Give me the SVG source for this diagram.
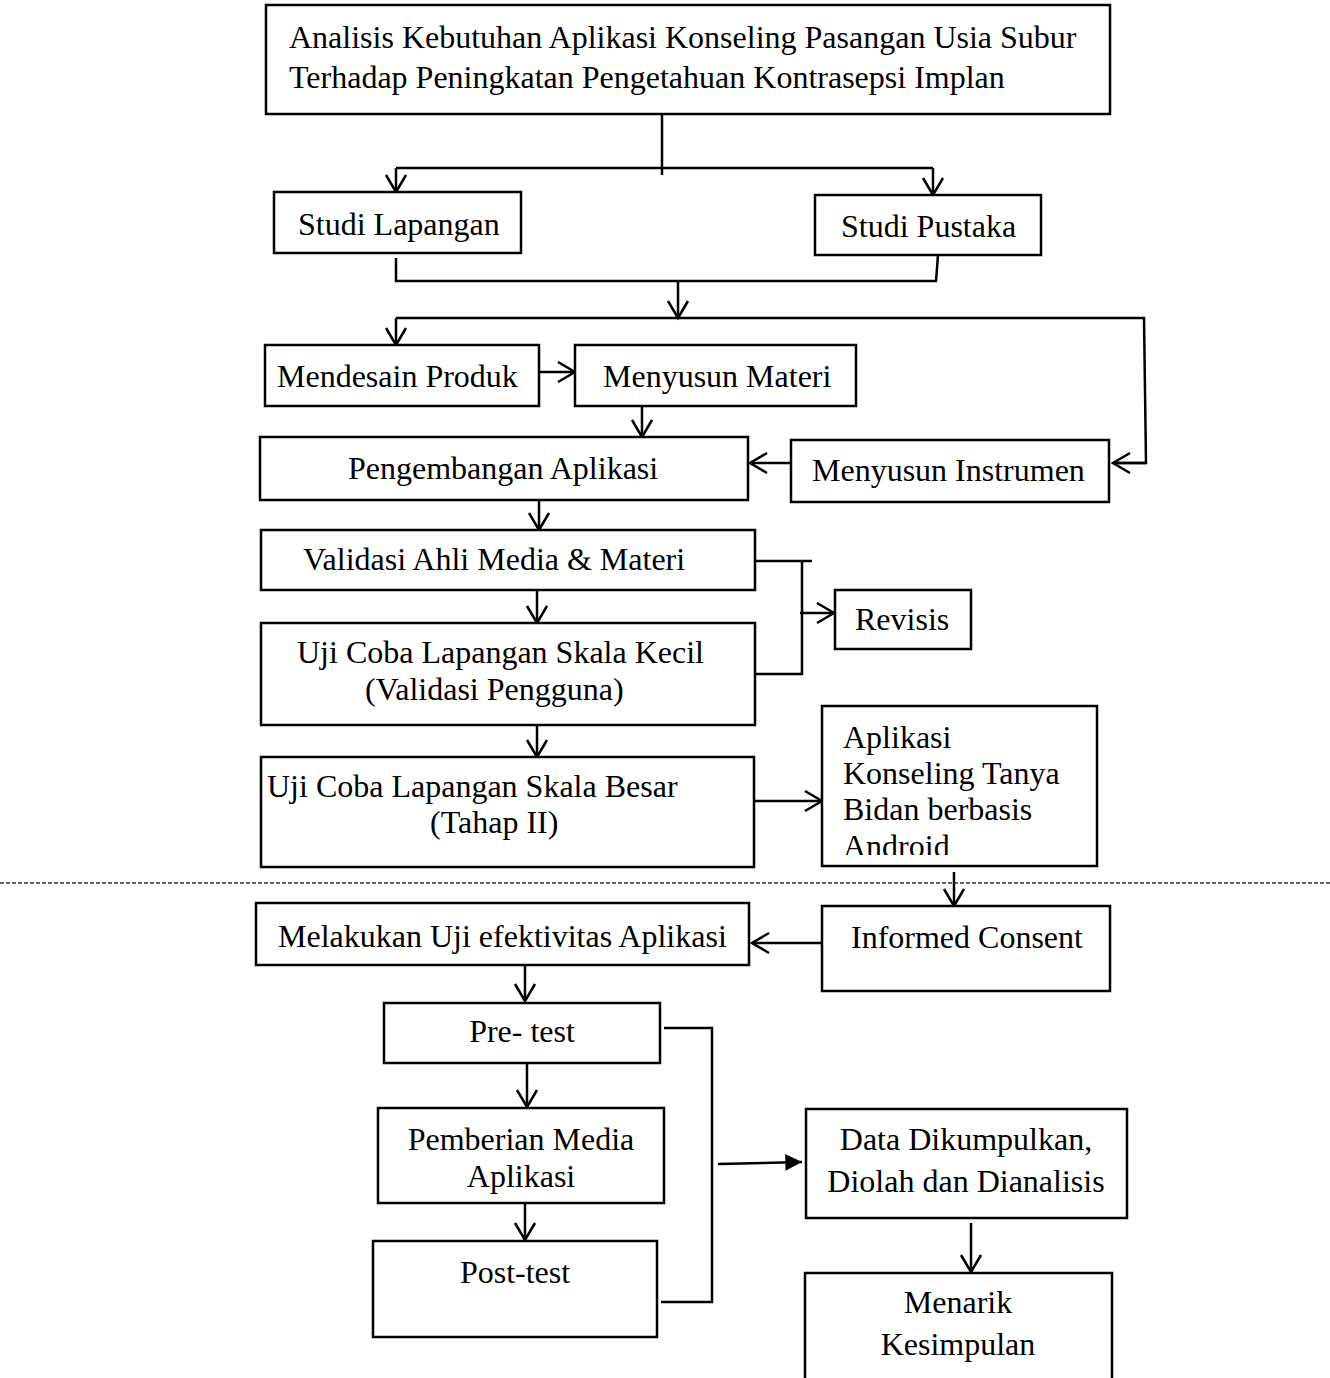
<svg xmlns="http://www.w3.org/2000/svg" width="1330" height="1378" viewBox="0 0 1330 1378">
  <style>
    .box { fill: #fff; stroke: #000; stroke-width: 2.5; }
    .t { font-family: "Liberation Serif", "Times New Roman", serif; font-size: 32px; fill: #000; }
    .c { text-anchor: middle; }
    .ln { fill: none; stroke: #000; stroke-width: 2.5; }
    .arr { fill: none; stroke: #000; stroke-width: 2.5; marker-end: url(#chev); }
    .farr { fill: none; stroke: #000; stroke-width: 2.5; marker-end: url(#tri); }
    .dash { fill: none; stroke: #333; stroke-width: 1.3; stroke-dasharray: 4 2; }
  </style>
  <defs>
    <marker id="chev" markerUnits="userSpaceOnUse" markerWidth="24" markerHeight="26" viewBox="-20 -13 24 26" refX="0" refY="0" orient="auto" overflow="visible">
      <path d="M-17,-10 L0,0 L-17,10" fill="none" stroke="#000" stroke-width="2.5"/>
    </marker>
    <marker id="tri" markerUnits="userSpaceOnUse" markerWidth="20" markerHeight="20" viewBox="-16 -9 18 18" refX="0" refY="0" orient="auto" overflow="visible">
      <path d="M-15,-7.5 L0,0 L-15,7.5 Z" fill="#000" stroke="none"/>
    </marker>
    <clipPath id="clipApp">
      <rect x="823" y="707" width="273" height="148"/>
    </clipPath>
  </defs>

  <rect width="1330" height="1378" fill="#fff"/>

  <g id="connectors">
    <path class="ln" d="M662,114 V175"/>
    <path class="ln" d="M396,168 H933"/>
    <path class="arr" d="M396,168 V192"/>
    <path class="arr" d="M933,168 V195"/>
    <path class="ln" d="M396,258 V281 H936 L938,255"/>
    <path class="arr" d="M678,281 V318"/>
    <path class="ln" d="M396,318 H1144 L1146,463 H1113"/>
    <path class="arr" d="M1146,463 H1113"/>
    <path class="arr" d="M396,318 V345"/>
    <path class="arr" d="M539,372 H575"/>
    <path class="arr" d="M642,406 V437"/>
    <path class="arr" d="M791,463 H750"/>
    <path class="arr" d="M539,500 V530"/>
    <path class="arr" d="M537,590 V623"/>
    <path class="ln" d="M755,561 H812"/>
    <path class="ln" d="M802,561 V674 H749"/>
    <path class="arr" d="M800,613 H834"/>
    <path class="arr" d="M537,725 V757"/>
    <path class="arr" d="M754,801 H822"/>
    <path class="arr" d="M954,872 V906"/>
    <path class="arr" d="M822,943 H752"/>
    <path class="arr" d="M525,965 V1001"/>
    <path class="arr" d="M527,1063 V1107"/>
    <path class="arr" d="M525,1203 V1240"/>
    <path class="ln" d="M664,1028 H712 V1302 H661"/>
    <path class="farr" d="M718,1164 L802,1162"/>
    <path class="arr" d="M971,1223 V1272"/>
    <path class="dash" d="M0,883 H1330"/>
  </g>

  <g id="n-analisis">
    <rect class="box" x="266" y="5" width="844" height="109"/>
    <text class="t" x="289" y="48">Analisis Kebutuhan Aplikasi Konseling Pasangan Usia Subur</text>
    <text class="t" x="289" y="88">Terhadap Peningkatan Pengetahuan Kontrasepsi Implan</text>
  </g>

  <g id="n-studi-lapangan">
    <rect class="box" x="274" y="192" width="247" height="61"/>
    <text class="t" x="298" y="235">Studi Lapangan</text>
  </g>

  <g id="n-studi-pustaka">
    <rect class="box" x="815" y="195" width="226" height="60"/>
    <text class="t" x="841" y="237">Studi Pustaka</text>
  </g>

  <g id="n-mendesain">
    <rect class="box" x="265" y="345" width="274" height="61"/>
    <text class="t" x="277" y="387">Mendesain Produk</text>
  </g>

  <g id="n-materi">
    <rect class="box" x="575" y="345" width="281" height="61"/>
    <text class="t" x="603" y="387">Menyusun Materi</text>
  </g>

  <g id="n-pengembangan">
    <rect class="box" x="260" y="437" width="488" height="63"/>
    <text class="t" x="348" y="479">Pengembangan Aplikasi</text>
  </g>

  <g id="n-instrumen">
    <rect class="box" x="791" y="440" width="318" height="62"/>
    <text class="t" x="812" y="481">Menyusun Instrumen</text>
  </g>

  <g id="n-validasi">
    <rect class="box" x="261" y="530" width="494" height="60"/>
    <text class="t" x="303" y="570">Validasi Ahli Media &amp; Materi</text>
  </g>

  <g id="n-revisis">
    <rect class="box" x="835" y="590" width="136" height="59"/>
    <text class="t" x="855" y="630">Revisis</text>
  </g>

  <g id="n-uji-kecil">
    <rect class="box" x="261" y="623" width="494" height="102"/>
    <text class="t" x="297" y="663">Uji Coba Lapangan Skala Kecil</text>
    <text class="t" x="365" y="700">(Validasi Pengguna)</text>
  </g>

  <g id="n-uji-besar">
    <rect class="box" x="261" y="757" width="493" height="110"/>
    <text class="t" x="267" y="797">Uji Coba Lapangan Skala Besar</text>
    <text class="t" x="430" y="833">(Tahap II)</text>
  </g>

  <g id="n-aplikasi">
    <rect class="box" x="822" y="706" width="275" height="160"/>
    <g clip-path="url(#clipApp)">
      <text class="t" x="843" y="748">Aplikasi</text>
      <text class="t" x="843" y="784">Konseling Tanya</text>
      <text class="t" x="843" y="820">Bidan berbasis</text>
      <text class="t" x="843" y="857">Android</text>
    </g>
  </g>

  <g id="n-melakukan">
    <rect class="box" x="256" y="903" width="493" height="62"/>
    <text class="t" x="278" y="947">Melakukan Uji efektivitas Aplikasi</text>
  </g>

  <g id="n-informed">
    <rect class="box" x="822" y="906" width="288" height="85"/>
    <text class="t" x="851" y="948">Informed Consent</text>
  </g>

  <g id="n-pretest">
    <rect class="box" x="384" y="1003" width="276" height="60"/>
    <text class="t c" x="522" y="1042">Pre- test</text>
  </g>

  <g id="n-pemberian">
    <rect class="box" x="378" y="1108" width="286" height="95"/>
    <text class="t c" x="521" y="1150">Pemberian Media</text>
    <text class="t c" x="521" y="1187">Aplikasi</text>
  </g>

  <g id="n-posttest">
    <rect class="box" x="373" y="1241" width="284" height="96"/>
    <text class="t c" x="515" y="1283">Post-test</text>
  </g>

  <g id="n-data">
    <rect class="box" x="806" y="1109" width="321" height="109"/>
    <text class="t c" x="966" y="1150">Data Dikumpulkan,</text>
    <text class="t c" x="966" y="1192">Diolah dan Dianalisis</text>
  </g>

  <g id="n-menarik">
    <rect class="box" x="805" y="1273" width="307" height="130"/>
    <text class="t c" x="958" y="1313">Menarik</text>
    <text class="t c" x="958" y="1355">Kesimpulan</text>
  </g>
</svg>
